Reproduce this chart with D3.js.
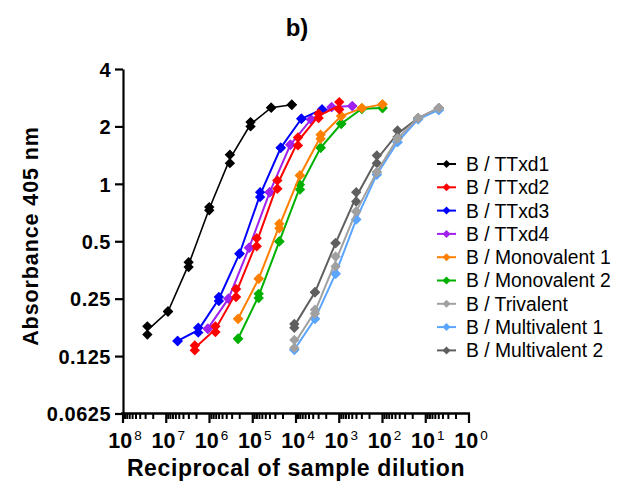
<!DOCTYPE html>
<html><head><meta charset="utf-8">
<script src="https://cdn.jsdelivr.net/npm/d3@7/dist/d3.min.js"></script>
<style>body{margin:0;background:#fff}svg{display:block}text{font-family:"Liberation Sans",Arial,sans-serif}</style>
</head><body><svg id="c" width="618" height="484"></svg>
<script>
// ---- data ----
const seriesNames = ["B / TTxd1","B / TTxd2","B / TTxd3","B / TTxd4","B / Monovalent 1","B / Monovalent 2","B / Trivalent","B / Multivalent 1","B / Multivalent 2"];
const seriesColors = ["#000000","#ff0000","#0000ff","#a020f0","#ff8000","#00b000","#a0a0a0","#5aa5ff","#5f5f5f"];
const dilTTxd1 = [27337500, 9112500, 3037500, 1012500, 337500, 112500, 37500, 12500];
const dilTTxd2 = [2187000, 729000, 243000, 81000, 27000, 9000, 3000, 1000];
const dilTTxd3 = [5467500, 1822500, 607500, 202500, 67500, 22500, 7500, 2500];
const dilTTxd4 = [1093500, 364500, 121500, 40500, 13500, 4500, 1500, 500];
const dilMono = [218700, 72900, 24300, 8100, 2700, 900, 300, 100];
const dilMulti = [10935, 3645, 1215, 405, 135, 45, 15, 5];
// absorbance replicates [rep1, rep2] per dilution
const absTTxd1 = [[0.179,0.162],[0.214,0.214],[0.388,0.366],[0.755,0.726],[1.421,1.284],[2.107,2.0],[2.508,2.508],[2.60,2.60]];
const absTTxd2 = [[0.142,0.134],[0.179,0.167],[0.281,0.255],[0.519,0.471],[1.042,0.943],[1.751,1.590],[2.331,2.211],[2.682,2.456]];
const absTTxd3 = [[0.150,0.150],[0.176,0.166],[0.255,0.243],[0.430,0.430],[0.904,0.852],[1.546,1.546],[2.195,2.195],[2.456,2.456]];
const absTTxd4 = [[0.174,0.174],[0.250,0.250],[0.462,0.462],[0.904,0.904],[1.603,1.603],[2.176,2.176],[2.525,2.525],[2.556,2.556]];
const absMono1 = [[0.196,0.196],[0.318,0.318],[0.618,0.585],[1.107,1.107],[1.809,1.724],[2.265,2.265],[2.495,2.495],[2.61,2.61]];
const absMono2 = [[0.154,0.154],[0.265,0.252],[0.499,0.499],[0.989,0.934],[1.546,1.546],[2.066,2.066],[2.476,2.476],[2.495,2.495]];
const absTri   = [[0.152,0.138],[0.219,0.209],[0.416,0.369],[0.717,0.717],[1.152,1.152],[1.73,1.73],[2.211,2.211],[2.495,2.495]];
const absMulti1= [[0.135,0.135],[0.196,0.196],[0.338,0.338],[0.651,0.651],[1.12,1.12],[1.654,1.654],[2.18,2.18],[2.44,2.44]];
const absMulti2= [[0.184,0.176],[0.270,0.270],[0.489,0.489],[0.904,0.808],[1.409,1.284],[1.905,1.758],[2.211,2.211],[2.495,2.495]];
const yTicks = [0.0625, 0.125, 0.25, 0.5, 1, 2, 4];
const yTickLabels = ["0.0625","0.125","0.25","0.5","1","2","4"];
const xTickExps = [8,7,6,5,4,3,2,1,0];

const dils = [dilTTxd1, dilTTxd2, dilTTxd3, dilTTxd4, dilMono, dilMono, dilMulti, dilMulti, dilMulti];
const abss = [absTTxd1, absTTxd2, absTTxd3, absTTxd4, absMono1, absMono2, absTri, absMulti1, absMulti2];
const series = seriesNames.map((n,i)=>({name:n, color:seriesColors[i], pts: dils[i].map((d,j)=>({d, reps: abss[i][j], mean: d3.mean(abss[i][j])}))}));

// ---- chart ----
const svg = d3.select("#c");
const x = d3.scaleLog().domain([1e8, 1]).range([123, 469]);
const y = d3.scaleLog().base(2).domain([0.0625, 4]).range([413.5, 69]);
const font = '"Liberation Sans",Arial,sans-serif';

svg.append("text").attr("x", 297).attr("y", 36).attr("text-anchor","middle")
  .attr("font-size", 24).attr("font-weight","bold").text("b)");

// y axis
const yAxis = d3.axisLeft(y).tickValues(yTicks).tickFormat((d,i)=>yTickLabels[i]).tickSize(8).tickSizeOuter(0).tickPadding(4);
const gy = svg.append("g").attr("transform","translate(123,0)").call(yAxis);
gy.select(".domain").attr("stroke","#000").attr("stroke-width",2.2);
gy.selectAll(".tick line").attr("stroke","#000").attr("stroke-width",2.2);
gy.selectAll(".tick text").attr("font-family",font).attr("font-size",20).attr("font-weight","bold").attr("fill","#000").attr("dy","0.36em").attr("letter-spacing","0.5px");

// x axis
const majors = xTickExps.map(e=>Math.pow(10,e));
const minors = [];
for (let e=0;e<8;e++) for (let m=2;m<=9;m++) minors.push(m*Math.pow(10,e));
const gx = svg.append("g").attr("transform","translate(0,413.5)");
gx.append("line").attr("x1",x(1e8)-2).attr("x2",x(1)+1).attr("y1",0).attr("y2",0).attr("stroke","#000").attr("stroke-width",2.6);
gx.selectAll("line.mi").data(minors).join("line").attr("class","mi")
  .attr("x1",d=>x(d)).attr("x2",d=>x(d)).attr("y1",0).attr("y2",5.5).attr("stroke","#000").attr("stroke-width",2);
gx.selectAll("line.ma").data(majors).join("line").attr("class","ma")
  .attr("x1",d=>x(d)).attr("x2",d=>x(d)).attr("y1",0).attr("y2",9.5).attr("stroke","#000").attr("stroke-width",2.2);
const xl = gx.selectAll("text.xl").data(xTickExps).join("text").attr("class","xl")
  .attr("x",e=>x(Math.pow(10,e))+2).attr("y",34).attr("text-anchor","middle")
  .attr("font-weight","bold").attr("font-size",21.5);
xl.append("tspan").text("10");
xl.append("tspan").attr("dy",-8).attr("font-size",13.5).attr("font-weight","normal").attr("dx",2).text(e=>e);

// axis titles
svg.append("text").attr("transform","translate(38,236) rotate(-90)").attr("text-anchor","middle")
  .attr("font-size",21.5).attr("font-weight","bold").attr("letter-spacing","0.9px").text("Absorbance 405 nm");
svg.append("text").attr("x",296).attr("y",476).attr("text-anchor","middle")
  .attr("font-size",23).attr("font-weight","bold").attr("letter-spacing","0.6px").text("Reciprocal of sample dilution");

// series
const line = d3.line().x(p=>x(p.d)).y(p=>y(p.mean));
const diamond = d3.symbol(d3.symbolSquare).size(54);
const drawOrder = series.slice().reverse();
const gs = svg.append("g").selectAll("g").data(drawOrder).join("g");
gs.append("path").attr("d",s=>line(s.pts)).attr("fill","none").attr("stroke",s=>s.color).attr("stroke-width",s=>s.name==="B / TTxd1"?1.6:2);
gs.each(function(s){
  const flat = [];
  s.pts.forEach(p=>p.reps.forEach(r=>flat.push({d:p.d, a:r})));
  d3.select(this).selectAll("path.m").data(flat).join("path").attr("class","m")
    .attr("d",diamond).attr("fill",s.color)
    .attr("transform",p=>`translate(${x(p.d)},${y(p.a)}) rotate(45)`);
});

// legend
const lg = svg.append("g").selectAll("g").data(series).join("g")
  .attr("transform",(s,i)=>`translate(437,${164+i*23.3})`);
lg.append("line").attr("x1",0).attr("x2",19).attr("stroke",s=>s.color).attr("stroke-width",2);
lg.append("path").attr("d",d3.symbol(d3.symbolSquare).size(32)).attr("transform","translate(9.5,0) rotate(45)").attr("fill",s=>s.color);
lg.append("text").attr("x",29).attr("dy","0.36em").attr("font-size",19.3).attr("fill","#000").text(s=>s.name);
</script></body></html>
